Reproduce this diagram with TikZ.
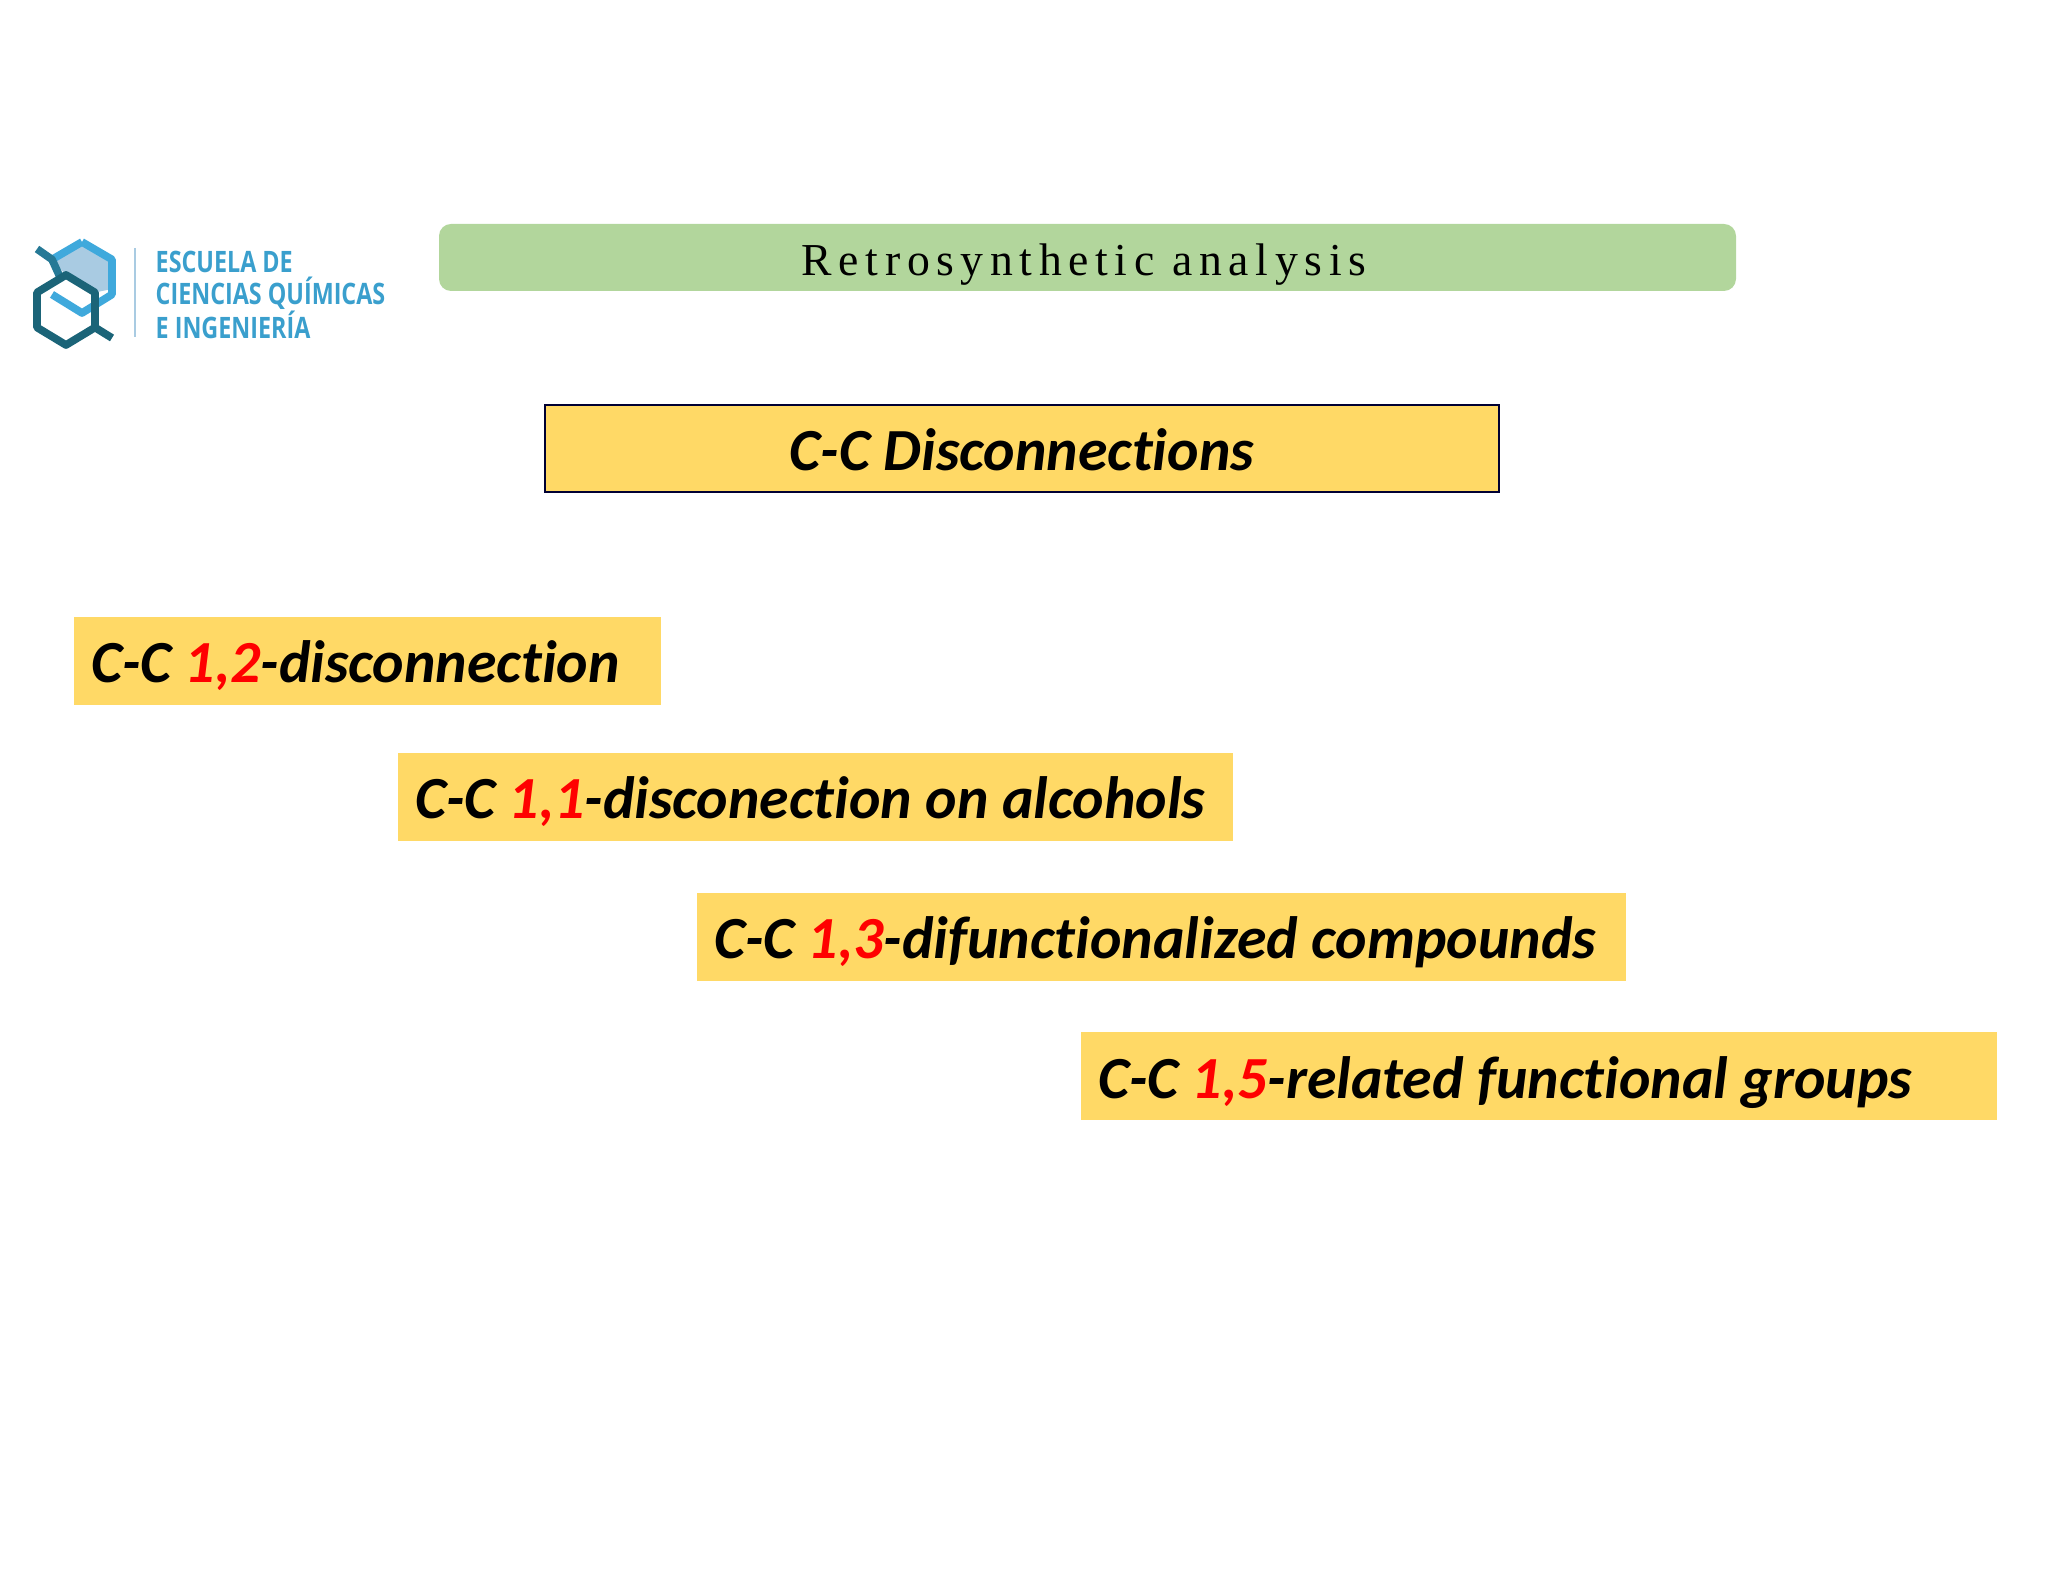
\documentclass[tikz,border=0pt]{standalone}
\usepackage{xcolor}
\usepackage{fontspec}
\setmainfont[Ligatures=NoCommon]{Carlito}
\newfontfamily\barfont[LetterSpace=14.5]{Liberation Serif}
\newfontfamily\logofont[FakeStretch=0.79]{Open Sans}
\usepackage{tikz}
\usetikzlibrary{positioning,shapes,calc}

\definecolor{barGreen}{HTML}{B2D69C}
\definecolor{boxYellow}{HTML}{FFD966}
\definecolor{numRed}{HTML}{FF0000}
\definecolor{logoBlue}{HTML}{3FA9DC}
\definecolor{logoDark}{HTML}{1B6478}
\definecolor{logoFill}{HTML}{A9CBE2}

\begin{document}
\begin{tikzpicture}[
  box/.style={rectangle, fill=boxYellow, minimum height=0.88cm, inner sep=0pt, text height=0.56cm, text depth=0.12cm, font=\fontsize{17}{20}\selectfont\bfseries\itshape},
  item/.style={box, align=flush left, inner xsep=0.17cm},
  logoline/.style={line width=2.2pt, line join=round},
  logotext/.style={font=\logofont\bfseries\fontsize{8.4}{10}\selectfont, text=logoBlue!85!logoDark, inner sep=0pt, anchor=west}
]
\useasboundingbox (0,0) rectangle (20.48,15.82);

% Top: logo
\fill[logoFill] (0.82,13.40) -- (1.12,13.225) -- (1.12,12.93) -- (0.95,12.895) -- (0.66,13.07) -- (0.52,13.225) -- cycle;
\draw[logoline, logoBlue] (0.82,13.40) -- (1.12,13.225) -- (1.12,12.875) -- (0.82,12.69) -- (0.52,12.875);
\draw[logoline, logoBlue] (0.52,13.225) -- (0.82,13.40);
\draw[logoline, logoDark!70!logoBlue] (0.37,13.33) -- (0.52,13.225) -- (0.60,13.05);
\draw[logoline, logoDark] (0.66,13.07) -- (0.95,12.895) -- (0.95,12.545) -- (0.66,12.37) -- (0.37,12.545) -- (0.37,12.895) -- cycle;
\draw[logoline, logoDark] (0.95,12.545) -- (1.12,12.44);
\draw[logoFill, line width=0.8pt] (1.35,13.34) -- (1.35,12.45);
\node[logotext] (logo1) at (1.55,13.20) {ESCUELA DE};
\node[logotext] (logo2) at (1.55,12.89) {CIENCIAS QUÍMICAS};
\node[logotext] (logo3) at (1.55,12.57) {E INGENIERÍA};

% Header bar
\node[rectangle, rounded corners=0.12cm, fill=barGreen, minimum width=12.97cm, minimum height=0.67cm, inner sep=0pt, text height=0.37cm, text depth=0.01cm, font=\barfont\fontsize{13}{16}\selectfont] (bar) at (10.875,13.245) {Retrosynthetic analysis\kern0.07cm};

% Title
\node[box, draw=black!80!blue, line width=0.5pt, minimum width=9.54cm, minimum height=0.87cm] (title) at (10.22,11.335) {C-C Disconnections};

% Disconnections
\node[item, text width=5.53cm] (dOneTwo) at (3.675,9.21) {C-C \textcolor{numRed}{1,2}-disconnection};
\node[item, text width=8.01cm] (dOneOne) at (8.155,7.85) {C-C \textcolor{numRed}{1,1}-disconection on alcohols};
\node[item, text width=8.95cm] (dOneThree) at (11.615,6.45) {C-C \textcolor{numRed}{1,3}-difunctionalized compounds};
\node[item, text width=8.82cm] (dOneFive) at (15.39,5.055) {C-C \textcolor{numRed}{1,5}-related functional groups};

\end{tikzpicture}
\end{document}
